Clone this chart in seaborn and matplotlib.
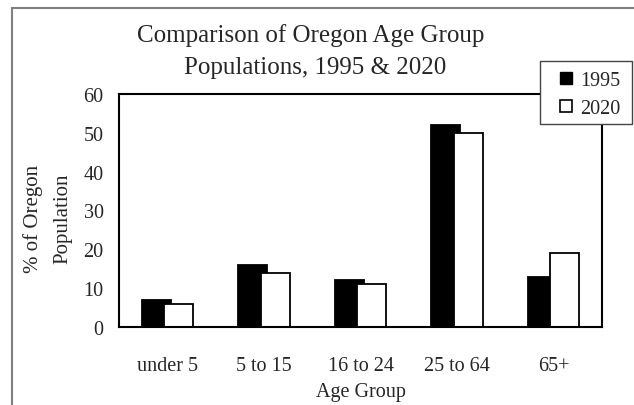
import numpy as np
import pandas as pd
import matplotlib
matplotlib.use("Agg")
import matplotlib.pyplot as plt
from matplotlib.patches import Rectangle, Patch
import seaborn as sns

# data
age_groups = ["under 5", "5 to 15", "16 to 24", "25 to 64", "65+"]
pct_1995 = [7, 16, 12, 52, 13]
pct_2020 = [6, 14, 11, 50, 19]
yticks = [0, 10, 20, 30, 40, 50, 60]

sns.set_style("white")
plt.rcParams["font.family"] = ["Liberation Serif", "DejaVu Serif"]

W, H = 634, 406
fig = plt.figure(figsize=(W / 100, H / 100), dpi=100)
ax = fig.add_axes([119 / W, 1 - 328 / H, (602 - 119) / W, (328 - 95) / H])

pos = np.arange(len(age_groups))
off, bw = 0.116, 0.30
sns.barplot(x=pos - off, y=pct_1995, native_scale=True, width=bw, color="black",
            saturation=1, edgecolor="black", linewidth=1.3, ax=ax)
sns.barplot(x=pos + off, y=pct_2020, native_scale=True, width=bw, color="white",
            saturation=1, edgecolor="black", linewidth=1.3, ax=ax)

ax.set_xlim(-0.5, len(age_groups) - 0.5)
ax.set_ylim(0, 60)
ax.set_yticks(yticks)
ax.set_yticklabels([str(t) for t in yticks], fontsize=14.5)
ax.set_xticks(np.arange(len(age_groups) + 1) - 0.5)
ax.set_xticklabels([])
ax.set_xticks(pos, minor=True)
ax.set_xticklabels(age_groups, minor=True, fontsize=14.5)
ax.tick_params(axis="x", which="minor", length=0, pad=21)
ax.tick_params(axis="both", which="major", direction="inout", length=10, width=1.2, color="black", pad=6)
ax.tick_params(axis="x", which="major", length=13)
for s in ax.spines.values():
    s.set_color("black")
    s.set_linewidth(1.5)

ax.set_xlabel("Age Group", fontsize=14.5, labelpad=5)
ax.set_ylabel("% of Oregon\nPopulation", fontsize=15, linespacing=1.7)
ax.yaxis.set_label_coords(-0.097, 0.47)

# two-line title
fig.text(311 / W, 1 - 42 / H, "Comparison of Oregon Age Group", ha="center", va="baseline", fontsize=18)
fig.text(315 / W, 1 - 74 / H, "Populations, 1995 & 2020", ha="center", va="baseline", fontsize=18)

# legend box sits on top of the plot frame
fig.patches.append(Rectangle((540 / W, 1 - 125 / H), 92 / W, 63 / H, transform=fig.transFigure,
                             facecolor="white", edgecolor="#444444", linewidth=1.0, zorder=3))
handles = [Patch(facecolor="black", edgecolor="black"),
           Patch(facecolor="white", edgecolor="black", linewidth=1.2)]
leg = fig.legend(handles, ["1995", "2020"], loc="upper left",
                 bbox_to_anchor=(560 / W, 1 - 72 / H), bbox_transform=fig.transFigure,
                 fontsize=14.5, frameon=False, borderaxespad=0, borderpad=0,
                 handlelength=0.6, handleheight=0.6, handletextpad=0.4, labelspacing=0.45)
leg.set_zorder(5)

# grey outer chart border (cropped on the right and bottom)
fig.patches.append(Rectangle((12 / W, -0.1), 1.2, 1.1 - 9 / H, transform=fig.transFigure,
                             fill=False, edgecolor="#808080", linewidth=1.5))

fig.savefig("out.png", dpi=100)
